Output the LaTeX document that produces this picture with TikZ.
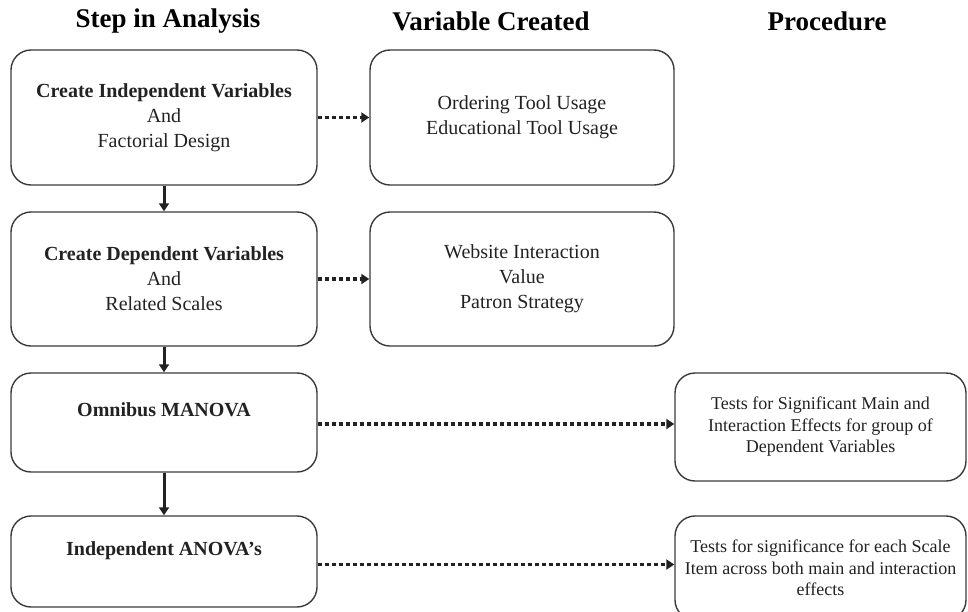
\documentclass[tikz,border=0pt]{standalone}
\usepackage{fontspec}
\setmainfont{Liberation Serif}
\usetikzlibrary{arrows.meta}
\definecolor{ink}{HTML}{222222}
\definecolor{edge}{HTML}{3A3A3A}
\begin{document}
\begin{tikzpicture}[x=1pt,y=-1pt,
  box/.style={draw=edge, line width=1.4pt, rounded corners=20pt, align=center, text=ink,
              font=\fontsize{20}{25}\selectfont, inner sep=0pt},
  pbox/.style={box, font=\fontsize{18}{21.5}\selectfont},
  head/.style={font=\fontsize{27}{30}\selectfont\bfseries, text=black},
  flow/.style={draw=ink, line width=3pt, -{Triangle[length=8pt,width=10pt]}},
  dots/.style={draw=ink, line width=3.5pt, dash pattern=on 4pt off 3pt, -{Triangle[length=8pt,width=10pt]}}]
\useasboundingbox (0,0) rectangle (968,611);

\node[head] (h1) at (168,21) {Step in Analysis};
\node[head] (h2) at (491,21) {Variable Created};
\node[head] (h3) at (827,21) {Procedure};

\node[box, minimum width=306pt, minimum height=135pt] (b1) at (164,117.5)
  {\textbf{Create Independent Variables}\\And\\Factorial Design};
\node[box, minimum width=304pt, minimum height=135pt] (b2) at (522,117.5)
  {Ordering Tool Usage\\Educational Tool Usage};

\node[box, minimum width=306pt, minimum height=134pt] (b3) at (164,279)
  {\textbf{Create Dependent Variables}\\And\\Related Scales};
\node[box, minimum width=304pt, minimum height=134pt] (b4) at (522,279)
  {Website Interaction\\Value\\Patron Strategy};

\node[box, minimum width=306pt, minimum height=99pt] (b5) at (164,422.5)
  {\textbf{Omnibus MANOVA}\\\mbox{}};
\node[pbox, minimum width=291pt, minimum height=108pt] (b6) at (820.5,427)
  {Tests for Significant Main and\\Interaction Effects for group of\\Dependent Variables};

\node[box, minimum width=306pt, minimum height=91pt] (b7) at (164,561.5)
  {\textbf{Independent ANOVA’s}\\\mbox{}};
\node[pbox, minimum width=291pt, minimum height=104pt] (b8) at (820.5,568)
  {Tests for significance for each Scale\\Item across both main and interaction\\effects};

\draw[flow] (b1.south) -- (b3.north);
\draw[flow] (b3.south) -- (b5.north);
\draw[flow] (b5.south) -- (b7.north);

\draw[dots] (b1.east) -- (b2.west);
\draw[dots] (b3.east) -- (b4.west);
\draw[dots] ([yshift=-1.5pt]b5.east) -- ([yshift=-1.5pt]b5.east -| b6.west);
\draw[dots] ([yshift=-3pt]b7.east) -- ([yshift=-3pt]b7.east -| b8.west);
\end{tikzpicture}
\end{document}
